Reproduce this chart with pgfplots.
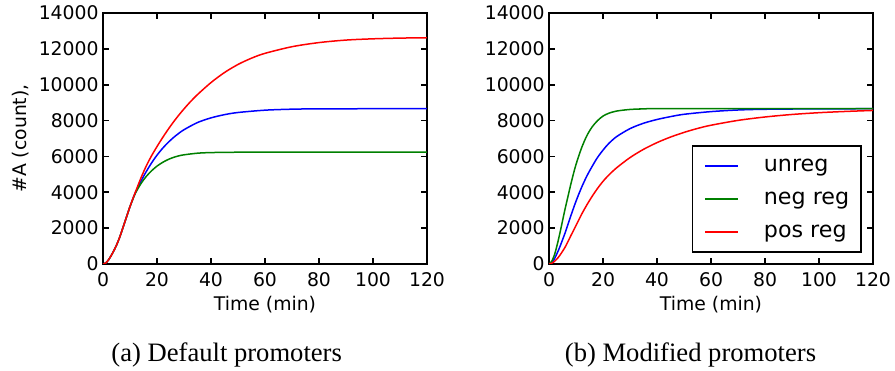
\documentclass[border=0pt]{standalone}
\usepackage{pgfplots}
\pgfplotsset{compat=1.18}
\usepackage{fontspec}
\setmainfont{DejaVu Sans}
\newfontfamily\capfont{Liberation Serif}
\definecolor{mplb}{rgb}{0,0,1}
\definecolor{mplg}{rgb}{0,0.5,0}
\definecolor{mplr}{rgb}{1,0,0}
\pgfplotsset{myaxis/.style={
  scale only axis, width=162pt, height=125.5pt,
  xmin=0, xmax=120, ymin=0, ymax=14000,
  xtick={0,20,...,120}, ytick={0,2000,...,14000},
  scaled y ticks=false, tick align=inside, major tick length=3pt,
  axis line style={line width=0.8pt},
  every tick/.style={black, line width=0.8pt},
  tick label style={font=\fontsize{9.4}{11}\selectfont, inner sep=0pt},
  /pgf/number format/assume math mode=true,
  /pgf/number format/1000 sep={},
  xticklabel style={anchor=north, yshift=-4pt},
  yticklabel style={anchor=east, xshift=-2pt},
  label style={font=\fontsize{9.4}{11}\selectfont},
  xlabel style={at={(axis description cs:0.5,0)}, anchor=center, yshift=-20.5pt},
  every axis plot/.append style={line width=0.75pt, smooth},
}}
\begin{document}
\begin{tikzpicture}
\path[use as bounding box] (0,0) rectangle (447.5pt,185pt);
\begin{axis}[myaxis, at={(51.5pt,53pt)}, anchor=south west,
  xlabel={Time (min)}, ylabel={\#A (count),},
  ylabel style={at={(axis description cs:-0.253,0.5)}, anchor=center}]
\addplot[mplb] coordinates {(0,0)(1,55)(2,220)(3,460)(4,740)(5,1050)(6,1420)(7,1850)(8,2300)(9,2750)(10,3200)(11,3610)(12,3980)(14,4600)(16,5150)(18,5640)(20,6070)(22,6440)(24,6760)(26,7040)(28,7280)(30,7490)(35,7890)(40,8150)(45,8330)(50,8450)(60,8580)(70,8635)(80,8655)(100,8660)(120,8660)};
\addplot[mplg] coordinates {(0,0)(1,55)(2,220)(3,460)(4,740)(5,1050)(6,1420)(7,1850)(8,2300)(9,2750)(10,3200)(11,3590)(12,3950)(14,4470)(16,4880)(18,5200)(20,5460)(22,5660)(24,5820)(26,5940)(28,6030)(30,6090)(35,6180)(40,6215)(50,6235)(60,6240)(120,6240)};
\addplot[mplr] coordinates {(0,0)(1,55)(2,220)(3,460)(4,740)(5,1050)(6,1420)(7,1850)(8,2300)(9,2750)(10,3200)(11,3620)(12,4010)(14,4780)(16,5460)(18,6040)(20,6550)(22,7030)(24,7480)(26,7900)(28,8290)(30,8650)(32,8990)(35,9450)(40,10120)(45,10680)(50,11130)(55,11480)(60,11750)(70,12120)(80,12350)(90,12490)(100,12560)(110,12600)(120,12620)};
\end{axis}
\begin{axis}[myaxis, at={(274.5pt,53pt)}, anchor=south west,
  xlabel={Time (min)},
  legend cell align=left,
  legend image code/.code={\draw[#1, line width=0.75pt] (0pt,0pt) -- (16.5pt,0pt);},
  legend style={at={(0.966,0.045)}, anchor=south east, draw=black, line width=0.8pt,
    font=\fontsize{11.1}{13}\selectfont, inner xsep=6pt, inner ysep=4.75pt,
    row sep=6pt, column sep=12.5pt, nodes={inner sep=0pt, text height=8pt, text depth=2.5pt}}]
\addplot[mplb] coordinates {(0,0)(1,80)(2,280)(3,600)(4,950)(6,1750)(8,2650)(10,3500)(12,4250)(14,4900)(16,5450)(18,5950)(20,6350)(22,6700)(25,7100)(30,7550)(35,7850)(40,8060)(45,8220)(50,8350)(60,8500)(70,8590)(80,8630)(100,8655)(120,8660)};
\addlegendentry{unreg}
\addplot[mplg] coordinates {(0,0)(1,150)(2,500)(3,1050)(4,1700)(5,2400)(6,3100)(7,3750)(8,4400)(9,5000)(10,5550)(12,6450)(14,7150)(16,7650)(18,8000)(20,8250)(22,8400)(25,8530)(30,8620)(35,8650)(40,8660)(120,8660)};
\addlegendentry{neg reg}
\addplot[mplr] coordinates {(0,0)(1,40)(2,140)(3,290)(4,480)(6,950)(8,1550)(10,2150)(12,2750)(14,3290)(16,3780)(18,4220)(20,4610)(22,4940)(25,5360)(30,5935)(35,6395)(40,6770)(45,7080)(50,7340)(55,7560)(60,7740)(70,8010)(80,8200)(90,8340)(100,8440)(110,8510)(120,8565)};
\addlegendentry{pos reg}
\end{axis}
\node[anchor=base, font=\capfont\fontsize{13.3}{15}\selectfont] at (113.35pt,4.15pt) {(a) Default promoters};
\node[anchor=base, font=\capfont\fontsize{13.3}{15}\selectfont] at (345.25pt,4.15pt) {(b) Modified promoters};
\end{tikzpicture}
\end{document}
